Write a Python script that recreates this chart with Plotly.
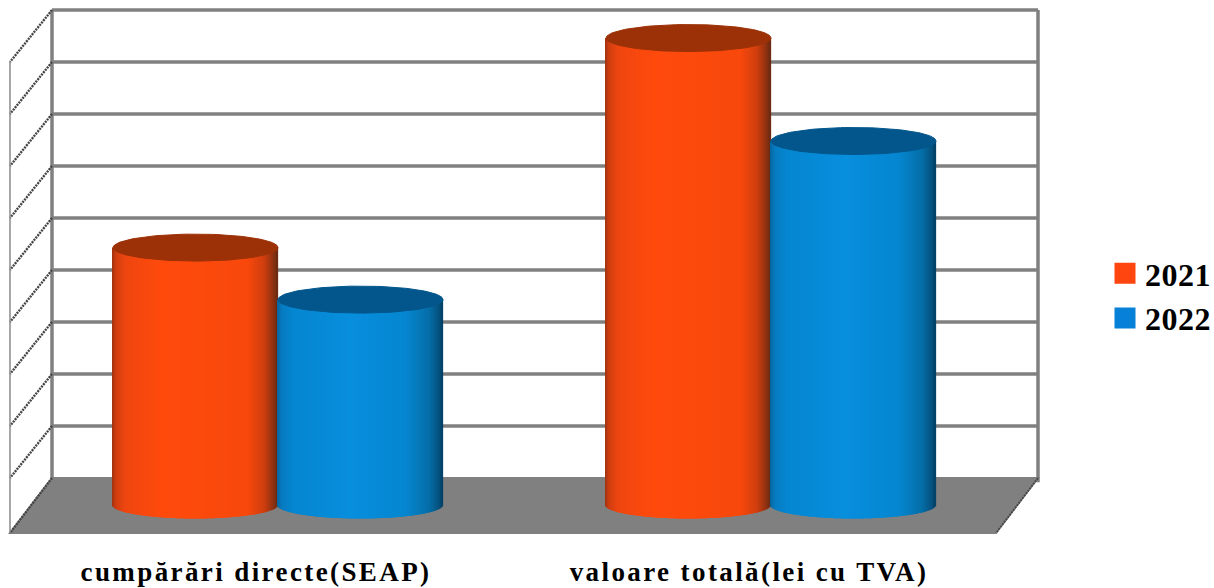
import numpy as np
import plotly.graph_objects as go

# ---- data (in grid units) ----
categories = ["cumpărări directe(SEAP)", "valoare totală(lei cu TVA)"]
series_names = ["2021", "2022"]
values_2021 = [4.95, 8.98]
values_2022 = [3.95, 7.0]
grid_levels = [0, 1, 2, 3, 4, 5, 6, 7, 8, 9]

# ---- style / layout constants ----
W, H, MB = 1214, 588, 43
UNIT = 52.0               # px per grid unit
Y0_PX = 478.0             # pixel of level 0 on the back wall
ytop = Y0_PX / UNIT
ybot = (Y0_PX - (H - MB)) / UNIT
WALL_L, WALL_R = 52, 1038
DX = 42                   # depth shift, x
FLOOR_DY = 55 / UNIT      # depth shift, y
BASE = -27 / UNIT         # cylinder base centre
RX, RY = 82.5, 13.5 / UNIT
GROUP_X = [278, 771]
GREY = "#808080"

RED_STOPS = [(0, "#a03210"), (.025, "#d03e10"), (.08, "#ee4610"), (.30, "#ff4a0c"),
             (.82, "#f8480c"), (.92, "#d03e0e"), (.98, "#8a3010"), (1, "#6a2a12")]
BLUE_STOPS = [(0, "#05659f"), (.03, "#067ac0"), (.10, "#0586d0"), (.45, "#078edd"),
              (.78, "#0586d0"), (.92, "#056ea8"), (.98, "#04527f"), (1, "#033f63")]
RED_TOP, BLUE_TOP = "#9c3108", "#02568c"
RED_KEY, BLUE_KEY = "#ff4510", "#0780d8"


def lerp(stops, t):
    for (a, ca), (b, cb) in zip(stops, stops[1:]):
        if t <= b:
            f = (t - a) / (b - a)
            c0 = [int(ca[i:i + 2], 16) for i in (1, 3, 5)]
            c1 = [int(cb[i:i + 2], 16) for i in (1, 3, 5)]
            return "rgb(%d,%d,%d)" % tuple(round(p + (q - p) * f) for p, q in zip(c0, c1))
    return stops[-1][1]


fig = go.Figure()


def add_seg(x0, y0, x1, y1, color, width, dash="solid"):
    fig.add_shape(type="line", xref="x", yref="y", x0=x0, y0=y0, x1=x1, y1=y1, layer="below",
                  line=dict(color=color, width=width, dash=dash))


# floor
fig.add_shape(type="path", xref="x", yref="y", layer="below", fillcolor=GREY,
              line=dict(color=GREY, width=2),
              path=f"M {WALL_L} 0 L {WALL_R} 0 L {WALL_R - DX} {-FLOOR_DY} "
                   f"L {WALL_L - DX} {-FLOOR_DY} Z")

# back wall grid
for g in grid_levels[1:]:
    add_seg(WALL_L, g, WALL_R, g, GREY, 3.5)
add_seg(WALL_L, 0, WALL_L, grid_levels[-1], GREY, 3.5)
add_seg(WALL_R, -0.08, WALL_R, grid_levels[-1], GREY, 3.5)

# side wall
for g in grid_levels:
    add_seg(WALL_L, g, WALL_L - DX, g - (1.0 if g else FLOOR_DY), "#444444", 2.4, "2px,1px")
add_seg(WALL_L - DX, -FLOOR_DY, WALL_L - DX, grid_levels[-1] - 1, "#8a8a8a", 1.5)
add_seg(WALL_R, 0, WALL_R - DX, -FLOOR_DY, "#444444", 1.8, "2px,1px")


def cylinder(cx, value, stops, top_color):
    offs = np.arange(-RX + 0.5, RX + 0.5, 1.0)
    t = (offs + RX) / (2 * RX)
    drop = RY * np.sqrt(np.clip(1 - (offs / RX) ** 2, 0, 1))
    bottoms = BASE - drop
    fig.add_trace(go.Bar(x=cx + offs, y=BASE + value - bottoms, base=bottoms, width=1.25,
                         marker=dict(color=[lerp(stops, v) for v in t], line=dict(width=0)),
                         showlegend=False, hoverinfo="skip"))
    th = np.linspace(0, 2 * np.pi, 121)
    fig.add_trace(go.Scatter(x=cx + RX * np.cos(th), y=BASE + value + RY * np.sin(th),
                             mode="lines", fill="toself", fillcolor=top_color,
                             line=dict(color=top_color, width=1), showlegend=False, hoverinfo="skip"))


for i, gx0 in enumerate(GROUP_X):
    cylinder(gx0 - RX, values_2021[i], RED_STOPS, RED_TOP)
    cylinder(gx0 + RX, values_2022[i], BLUE_STOPS, BLUE_TOP)

# legend keys
for name, col in zip(series_names, [RED_KEY, BLUE_KEY]):
    fig.add_trace(go.Scatter(x=[None], y=[None], mode="markers", name=name,
                             marker=dict(symbol="square", size=16, color=col,
                                         line=dict(color=col, width=5))))

fig.update_layout(
    width=W, height=H, margin=dict(l=0, r=0, t=0, b=MB, pad=0),
    paper_bgcolor="white", plot_bgcolor="white", barmode="overlay", hovermode=False,
    font=dict(family="Liberation Serif", color="black"),
    xaxis=dict(range=[0, W], showgrid=False, zeroline=False, showline=False, ticks="",
               automargin=False,
               tickmode="array", tickvals=[g - 22 for g in GROUP_X], ticktext=categories,
               tickfont=dict(family="Liberation Serif", size=27, color="black", weight="bold"),
               ticklabelstandoff=8),
    yaxis=dict(range=[ybot, ytop], showgrid=False, zeroline=False, showline=False,
               automargin=False, showticklabels=False, ticks=""),
    legend=dict(x=1105 / W, xanchor="left", y=1 - 296 / (H - MB), yanchor="middle",
                bgcolor="rgba(0,0,0,0)", borderwidth=0,
                font=dict(family="Liberation Serif", size=32, color="black", weight="bold")),
)

fig.write_html(
    "out.html", config={"displayModeBar": False},
    post_script="document.body.style.margin='0';"
                "document.querySelectorAll('.xtick text').forEach(function(t){t.style.letterSpacing='2.4px';});"
                "document.querySelectorAll('.legendtext').forEach(function(t){t.style.letterSpacing='0.5px';});")
